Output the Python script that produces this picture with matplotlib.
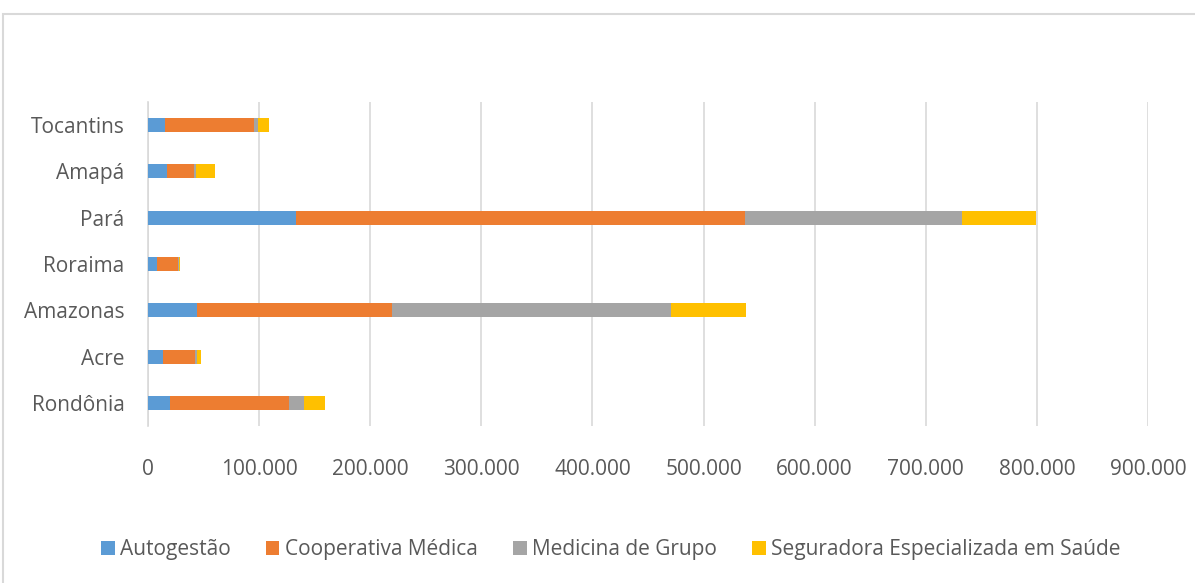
import matplotlib
matplotlib.use("Agg")
import matplotlib.pyplot as plt
from matplotlib.patches import Rectangle
import numpy as np

states = ["Rondônia", "Acre", "Amazonas", "Roraima", "Pará", "Amapá", "Tocantins"]
series_names = ["Autogestão", "Cooperativa Médica", "Medicina de Grupo",
                "Seguradora Especializada em Saúde"]
autogestao = [20000, 13500, 43800, 8400, 133000, 17400, 15600]
cooperativa = [107000, 28800, 176000, 18600, 404000, 24000, 79800]
medicina = [13500, 1800, 251000, 500, 196000, 1800, 3600]
seguradora = [19000, 3400, 67000, 1500, 66500, 16800, 9600]
colors = ["#5B9BD5", "#ED7D31", "#A5A5A5", "#FFC000"]
xticks = [0, 100000, 200000, 300000, 400000, 500000, 600000, 700000, 800000, 900000]
xticklabels = ["0", "100.000", "200.000", "300.000", "400.000", "500.000",
               "600.000", "700.000", "800.000", "900.000"]

plt.rcParams['font.family'] = ['Open Sans', 'DejaVu Sans']
fig = plt.figure(figsize=(11.95, 5.83), dpi=100)
fig.patches.append(Rectangle((3/1195, -0.1), 1.2, 1 - 14/583 + 0.1, transform=fig.transFigure,
                             fill=False, edgecolor="#D9D9D9", linewidth=1.5))
ax = fig.add_axes([148/1195, 1 - 426/583, 1000/1195, 324/583])

y = np.arange(len(states))
left = np.zeros(len(states))
for name, vals, c in zip(series_names, [autogestao, cooperativa, medicina, seguradora], colors):
    ax.barh(y, vals, left=left, height=0.3, color=c, label=name, zorder=3)
    left += np.array(vals)

ax.set_xlim(0, 900000)
ax.set_ylim(-0.5, len(states) - 0.5)
ax.set_xticks(xticks)
ax.set_xticklabels(xticklabels)
ax.set_yticks(y)
ax.set_yticklabels(states)
ax.grid(axis="x", color="#D9D9D9", linewidth=1.2, zorder=0)
for s in ["top", "right", "bottom"]:
    ax.spines[s].set_visible(False)
ax.spines["left"].set_color("#D9D9D9")
ax.spines["left"].set_linewidth(1.2)
ax.tick_params(axis="both", length=0, labelsize=15, labelcolor="#595959")
ax.tick_params(axis="x", pad=24)
ax.tick_params(axis="y", pad=17)

fig.legend(loc="center", bbox_to_anchor=(0.511, 1 - 550/583), ncol=4, frameon=False,
           fontsize=15, labelcolor="#595959", handlelength=0.65, handleheight=0.65,
           handletextpad=0.25, columnspacing=1.7)

fig.savefig("out.png", dpi=100)
